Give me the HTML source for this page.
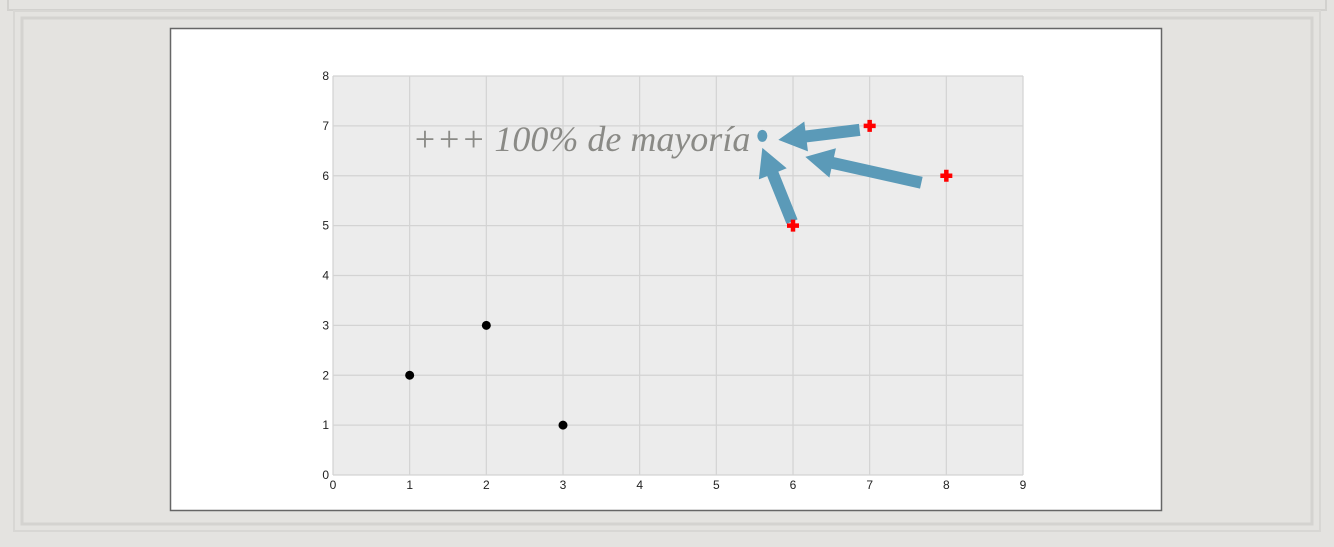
<!DOCTYPE html>
<html><head><meta charset="utf-8"><style>
body{margin:0;width:1334px;height:542px;overflow:hidden;background:#e4e3e0;font-family:"Liberation Sans",sans-serif}
</style></head><body>
<svg id="s" width="1334" height="542" xmlns="http://www.w3.org/2000/svg">
<rect x="0" y="0" width="1334" height="542" fill="#e4e3e0"/>
<rect x="8" y="-2" width="1318" height="12" fill="none" stroke="#d2d1ce" stroke-width="2"/>
<rect x="22" y="18" width="1290" height="506" fill="none" stroke="#d4d3d0" stroke-width="3"/>
<rect x="14" y="11" width="1306" height="520" fill="none" stroke="#d8d7d4" stroke-width="2"/>
<rect x="170.5" y="28.5" width="991" height="482" fill="#fff" stroke="#666" stroke-width="1.5"/>
<g id="plot"></g>
</svg>
<script>
const xTicks=[0,1,2,3,4,5,6,7,8,9];
const yTicks=[0,1,2,3,4,5,6,7,8];
const blackX=[1,2,3];
const blackY=[2,3,1];
const redX=[6,7,8];
const redY=[5,7,6];
const targetX=5.6, targetY=6.8;
const annotationText="+++ 100% de mayoría";
const X0=333,X1=1023,Y0=475,Y1=76;
const sx=v=>X0+(v-0)/(9-0)*(X1-X0);
const sy=v=>Y0-(v-0)/(8-0)*(Y0-Y1);
const NS="http://www.w3.org/2000/svg";
const g=document.getElementById('plot');
function mk(t,a){const e=document.createElementNS(NS,t);for(const k in a)e.setAttribute(k,a[k]);g.appendChild(e);return e;}
let r=mk('rect',{x:X0,y:Y1,width:X1-X0,height:Y0-Y1,fill:'#ececec'});


xTicks.forEach(t=>{
 const l=mk('line',{x1:sx(t),x2:sx(t),y1:Y1,y2:Y0,stroke:'#d3d3d3','stroke-width':1.2});
 
 
 const tx=mk('text',{x:sx(t),y:Y0+14,'font-size':12,'text-anchor':'middle',fill:'#222'});tx.textContent=t;
 
 
});
yTicks.forEach(t=>{
 const l=mk('line',{x1:X0,x2:X1,y1:sy(t),y2:sy(t),stroke:'#d3d3d3','stroke-width':1.2});
 
 
 const tx=mk('text',{x:X0-4,y:sy(t)+4,'font-size':12,'text-anchor':'end',fill:'#222'});tx.textContent=t;
 
 
});
blackX.forEach((v,i)=>{
 const c=mk('circle',{cx:sx(v),cy:sy(blackY[i]),r:4.5,fill:'#000'});
 
 
});
const tX=sx(targetX),tY=sy(targetY);
function arrow(x1,y1,x2,y2){
 const dx=x2-x1,dy=y2-y1,L=Math.hypot(dx,dy),ux=dx/L,uy=dy/L,px=-uy,py=ux;
 const hl=28,hw=15,sw=6;
 const bx=x2-ux*hl,by=y2-uy*hl;
 const pts=[[x1+px*sw,y1+py*sw],[bx+px*sw,by+py*sw],[bx+px*hw,by+py*hw],[x2,y2],[bx-px*hw,by-py*hw],[bx-px*sw,by-py*sw],[x1-px*sw,y1-py*sw]];
 const p=mk('polygon',{points:pts.map(q=>q.join(',')).join(' '),fill:'#5b9ab8'});
 
 
}
// arrow tip offsets from target, in px (annotation layout)
const tipOff=[[0,12],[16,4],[43,21]];
const tailOff=[[-1,-4],[-10,4],[-25,7]];
redX.forEach((v,i)=>{
 const x=sx(v),y=sy(redY[i]);
 arrow(x+tailOff[i][0],y+tailOff[i][1],tX+tipOff[i][0],tY+tipOff[i][1]);
});
const tc=mk('ellipse',{cx:tX,cy:tY,rx:5,ry:6,fill:'#5b9ab8'});


redX.forEach((v,i)=>{
 const x=sx(v),y=sy(redY[i]);
 const p=mk('path',{d:`M${x-6} ${y}H${x+6}M${x} ${y-6}V${y+6}`,stroke:'#f00','stroke-width':4.5});
 
 
});
const at=mk('text',{x:tX-12,y:tY+15,'font-size':36,'font-style':'italic','font-family':'"Liberation Serif",serif','text-anchor':'end',fill:'#8a8a86'});
at.textContent=annotationText;


</script>
</body></html>
